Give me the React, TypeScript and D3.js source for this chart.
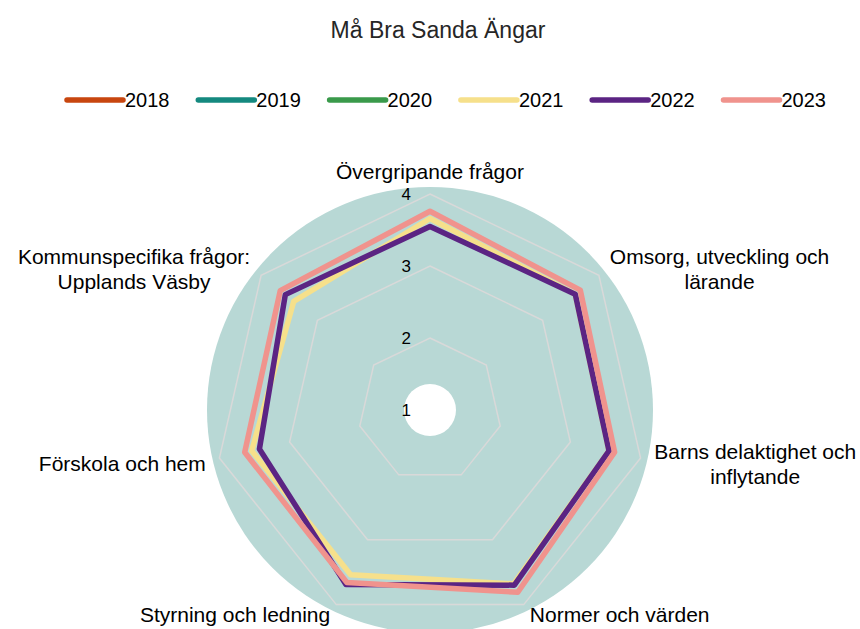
import React, { useEffect, useRef } from "react";
import * as d3 from "d3";

// diagramdata
const title = "Må Bra Sanda Ängar";
const categories: string[][] = [
  ["Övergripande frågor"],
  ["Omsorg, utveckling och", "lärande"],
  ["Barns delaktighet och", "inflytande"],
  ["Normer och värden"],
  ["Styrning och ledning"],
  ["Förskola och hem"],
  ["Kommunspecifika frågor:", "Upplands Väsby"],
];
const years = ["2018", "2019", "2020", "2021", "2022", "2023"];
const colors = ["#c8460f", "#14897f", "#3a9a4b", "#f6e08b", "#5b2483", "#f0938d"];
const values2018: number[] = [];
const values2019: number[] = [];
const values2020: number[] = [];
const values2021 = [3.66, 3.58, 3.55, 3.68, 3.54, 3.54, 3.42];
const values2022 = [3.55, 3.58, 3.55, 3.7, 3.69, 3.43, 3.57];
const values2023 = [3.76, 3.67, 3.63, 3.81, 3.66, 3.64, 3.66];
const series = [values2018, values2019, values2020, values2021, values2022, values2023];
const tickValues = [1, 2, 3, 4];

const width = 860;
const height = 629;
const cx = 430;
const cy = 410;

const App = () => {
  const ref = useRef<SVGSVGElement>(null);

  useEffect(() => {
    document.body.style.margin = "0";
    const svg = d3.select(ref.current);
    svg.selectAll("*").remove();

    const font = "'Liberation Sans', Arial, sans-serif";
    const n = categories.length;
    const angle = (i: number) => (i * 2 * Math.PI) / n;
    const r = d3.scaleLinear([1, 4], [0, 216]);

    // titel
    svg.append("text")
      .attr("x", 438).attr("y", 38)
      .attr("text-anchor", "middle")
      .attr("font-family", font).attr("font-size", 23)
      .attr("fill", "#262626")
      .text(title);

    // förklaring
    const legendX = d3.scalePoint(years, [67, 723.5]);
    const lg = svg.append("g").selectAll("g").data(years).join("g")
      .attr("transform", d => `translate(${legendX(d)},100)`);
    lg.append("line")
      .attr("x1", 0).attr("x2", 56)
      .attr("stroke", (d, i) => colors[i])
      .attr("stroke-width", 5.5)
      .attr("stroke-linecap", "round");
    lg.append("text")
      .attr("x", 58).attr("y", 7)
      .attr("font-family", font).attr("font-size", 20)
      .attr("fill", "#000")
      .text(d => d);

    const g = svg.append("g").attr("transform", `translate(${cx},${cy})`);

    // bakgrund
    g.append("circle").attr("r", 223).attr("fill", "#b8d8d5");
    g.append("circle").attr("r", 26).attr("fill", "#fff");

    // rutnät
    const ring = d3.lineRadial<number>()
      .angle((d, i) => angle(i))
      .radius(d => r(d))
      .curve(d3.curveLinearClosed);
    g.selectAll("path.grid")
      .data(tickValues.filter(t => t > 1))
      .join("path")
      .attr("class", "grid")
      .attr("d", t => ring(categories.map(() => t)))
      .attr("fill", "none")
      .attr("stroke", "#d9d9d9")
      .attr("stroke-width", 1.5);

    g.selectAll("text.tick")
      .data(tickValues)
      .join("text")
      .attr("class", "tick")
      .attr("x", -19)
      .attr("y", t => -r(t) + 6)
      .attr("text-anchor", "end")
      .attr("font-family", font).attr("font-size", 17)
      .attr("fill", "#000")
      .text(t => t);

    // serier
    series.forEach((vals, i) => {
      if (!vals.length) return;
      g.append("path")
        .attr("d", ring(vals))
        .attr("fill", "none")
        .attr("stroke", colors[i])
        .attr("stroke-width", 5.5)
        .attr("stroke-linejoin", "round");
    });

    // kategorietiketter
    const labelR = 230;
    const lh = 25;
    categories.forEach((lines, i) => {
      const a = angle(i);
      const s = Math.sin(a);
      const c = Math.cos(a);
      const x = labelR * s;
      const y = -labelR * c;
      const yc = i === 0 ? y - 8 : c < -0.8 ? y - 2 : y + 3;
      const t = g.append("text")
        .attr("text-anchor", "middle")
        .attr("font-family", font).attr("font-size", 21)
        .attr("fill", "#000");
      lines.forEach((line, j) => {
        t.append("tspan")
          .attr("x", 0)
          .attr("y", yc - ((lines.length - 1) * lh) / 2 + j * lh + 7)
          .text(line);
      });
      const w = (t.node() as SVGTextElement).getBBox().width;
      const tx = s > 0.1 ? x + w / 2 : s < -0.1 ? x - w / 2 : x;
      t.attr("transform", `translate(${tx},0)`);
    });
  }, []);

  return <svg ref={ref} width={width} height={height} style={{ display: "block" }} />;
};

export default App;
